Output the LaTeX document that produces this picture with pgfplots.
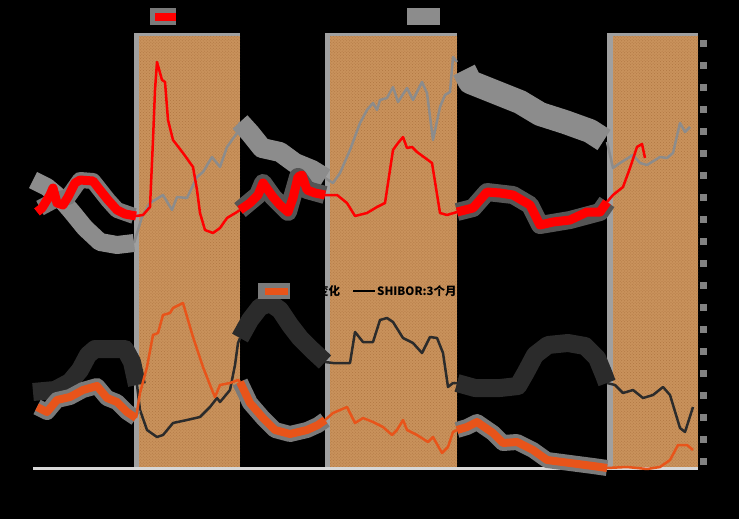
\documentclass[border=0pt]{standalone}
\usepackage{pgfplots}
\pgfplotsset{compat=1.18}
\usetikzlibrary{patterns}
\usepackage{fontspec}
\newfontfamily\cjk{Noto Sans CJK SC}

\definecolor{cork}{RGB}{201,146,92}
\definecolor{corkdark}{RGB}{176,118,66}
\definecolor{bandedge}{RGB}{160,160,160}
\definecolor{lred}{RGB}{255,0,0}
\definecolor{lgray}{RGB}{140,140,140}
\definecolor{lorange}{RGB}{232,84,26}
\definecolor{ldark}{RGB}{43,43,43}
\definecolor{halo}{RGB}{85,85,85}
\definecolor{halolight}{RGB}{122,122,122}

\begin{document}
\begin{tikzpicture}[line cap=round, line join=round]
\fill[black] (0,0) rectangle (739bp,519bp);
\begin{axis}[
    at={(0,0)}, anchor=south west,
    scale only axis, width=739bp, height=519bp,
    xmin=0, xmax=739, ymin=0, ymax=519, y dir=reverse,
    hide axis, clip=false,
]

% shaded periods
\addplot[draw=none, fill=bandedge] coordinates {(134,33)(240,33)(240,468)(134,468)} --cycle;
\addplot[draw=none, fill=cork] coordinates {(139,36)(240,36)(240,468)(139,468)} --cycle;
\addplot[draw=none, pattern=crosshatch dots, pattern color=corkdark] coordinates {(139,36)(240,36)(240,468)(139,468)} --cycle;
\addplot[draw=none, fill=bandedge] coordinates {(325,33)(457,33)(457,468)(325,468)} --cycle;
\addplot[draw=none, fill=cork] coordinates {(330,36)(457,36)(457,468)(330,468)} --cycle;
\addplot[draw=none, pattern=crosshatch dots, pattern color=corkdark] coordinates {(330,36)(457,36)(457,468)(330,468)} --cycle;
\addplot[draw=none, fill=bandedge] coordinates {(607,33)(698,33)(698,468)(607,468)} --cycle;
\addplot[draw=none, fill=cork] coordinates {(613,36)(698,36)(698,468)(613,468)} --cycle;
\addplot[draw=none, pattern=crosshatch dots, pattern color=corkdark] coordinates {(613,36)(698,36)(698,468)(613,468)} --cycle;

% x axis line and right tick column
\draw[color={rgb,255:red,215;green,215;blue,215}, line width=3bp] (axis cs:33,468) -- (axis cs:698,468);
\pgfplotsinvokeforeach{40,62,84,106,128,150,172,194,216,238,260,282,304,326,348,370,392,414,436,458}{
  \fill[color={rgb,255:red,130;green,130;blue,130}] (axis cs:700,#1) rectangle (axis cs:707,#1+7);
}

% ---------- upper panel ----------
% grey series
\addplot[lgray, line width=18bp] coordinates {(33,180)(47,187)(60,198)(72,212)(85,228)(100,242)(117,245)(134,243)};
\addplot[lgray, line width=2.5bp] coordinates {(134,243)(142,217)(150,203)(163,195)(172,210)(177,197)(187,198)(197,177)(203,172)(212,157)(220,167)(227,147)(237,133)(240,122)};
\addplot[lgray, line width=20bp] coordinates {(240,122)(250,133)(262,148)(280,152)(295,163)(312,170)(325,178)};
\addplot[lgray, line width=2.5bp] coordinates {(325,178)(333,183)(340,173)(350,150)(360,123)(367,110)(373,103)(377,110)(380,100)(387,98)(393,87)(398,102)(407,88)(413,100)(422,82)(427,93)(433,140)(440,107)(445,95)(450,92)(453,57)(457,62)};
\addplot[lgray, line width=24bp] coordinates {(464,70)(470,82)(490,90)(520,102)(540,114)(565,122)(590,131)(604,140)};
\addplot[lgray, line width=2.5bp] coordinates {(607,142)(613,168)(620,163)(633,155)(640,163)(647,165)(660,157)(667,158)(673,153)(680,123)(685,132)(690,127)};

% red series
\addplot[halolight, line width=16bp] coordinates {(40,208)(55,200)(68,197)(80,180)(93,181)(108,200)(117,210)(134,216)};
\addplot[halo, line width=18bp] coordinates {(240,210)(258,195)(263,183)(273,197)(288,212)(298,177)(307,190)(325,195)};
\addplot[halo, line width=18bp] coordinates {(457,212)(473,208)(487,192)(513,195)(530,205)(540,225)(570,220)(600,212)(607,202)};
\addplot[lred, line width=9bp] coordinates {(37,212)(42,208)(50,195)(53,188)(57,203)(63,205)(68,197)(75,183)(80,180)(93,181)(100,190)(108,200)(117,210)(125,214)(136,216)};
\addplot[lred, line width=2.5bp] coordinates {(136,216)(143,215)(150,207)(153,140)(155,90)(157,62)(162,80)(165,82)(168,120)(173,140)(183,153)(193,167)(197,190)(200,213)(205,230)(213,233)(220,228)(227,218)(237,212)(240,210)};
\addplot[lred, line width=9bp] coordinates {(240,210)(250,203)(258,195)(263,183)(268,190)(273,197)(280,205)(288,212)(293,198)(298,177)(302,175)(307,190)(315,193)(325,195)};
\addplot[lred, line width=2.5bp] coordinates {(325,195)(337,195)(347,203)(355,216)(367,213)(377,207)(385,203)(393,150)(398,143)(403,137)(407,148)(412,147)(417,152)(432,163)(440,213)(447,215)(457,212)};
\addplot[lred, line width=9bp] coordinates {(457,212)(473,208)(487,192)(500,193)(513,195)(530,205)(540,225)(553,222)(570,220)(587,212)(600,212)(607,202)};
\addplot[lred, line width=2.5bp] coordinates {(607,202)(613,195)(623,187)(630,168)(637,147)(642,144)(645,158)};

% ---------- lower panel ----------
% dark series (SHIBOR 3M)
\addplot[ldark, line width=18bp] coordinates {(33,392)(55,390)(70,382)(80,370)(88,355)(95,349)(125,349)(132,362)(137,385)};
\addplot[ldark, line width=2.5bp] coordinates {(137,385)(140,410)(147,430)(157,437)(163,435)(173,423)(187,420)(200,417)(210,407)(217,398)(220,402)(230,390)(235,365)(238,343)(240,338)};
\addplot[ldark, line width=18bp] coordinates {(240,338)(250,320)(260,307)(270,303)(280,310)(290,325)(300,338)(312,350)(325,362)};
\addplot[ldark, line width=2.5bp] coordinates {(325,362)(333,363)(350,363)(355,332)(363,342)(373,342)(380,320)(387,318)(393,322)(403,338)(413,343)(422,353)(430,337)(437,338)(443,353)(448,387)(453,383)(457,383)};
\addplot[ldark, line width=18bp] coordinates {(457,383)(475,388)(500,388)(518,386)(526,372)(535,355)(548,345)(568,343)(585,346)(597,358)(604,375)(607,383)};
\addplot[ldark, line width=2.5bp] coordinates {(607,383)(615,385)(623,393)(633,390)(643,398)(653,395)(663,387)(670,395)(680,428)(685,432)(693,407)};

% orange series
\addplot[halolight, line width=16bp] coordinates {(37,407)(47,412)(57,400)(70,397)(83,390)(97,386)(107,398)(117,402)(127,412)(136,418)};
\addplot[halolight, line width=16bp] coordinates {(240,382)(250,403)(263,418)(275,430)(290,434)(307,430)(318,425)(325,420)};
\addplot[halolight, line width=16bp] coordinates {(457,430)(467,427)(477,422)(493,433)(503,443)(517,442)(533,450)(547,460)(570,463)(593,466)(607,468)};
\addplot[lorange, line width=8bp] coordinates {(37,407)(47,412)(57,400)(70,397)(83,390)(97,386)(107,398)(117,402)(127,412)(136,418)};
\addplot[lorange, line width=2.5bp] coordinates {(136,418)(140,393)(147,367)(153,335)(158,333)(163,315)(170,313)(173,308)(183,303)(193,337)(203,367)(212,390)(215,397)(220,385)(230,383)(238,380)(240,382)};
\addplot[lorange, line width=8bp] coordinates {(240,382)(250,403)(263,418)(275,430)(290,434)(307,430)(318,425)(325,420)};
\addplot[lorange, line width=2.5bp] coordinates {(325,420)(333,413)(340,410)(347,407)(355,423)(363,418)(373,422)(383,427)(392,435)(397,430)(403,420)(407,430)(417,435)(428,442)(433,437)(442,453)(448,447)(453,432)(457,430)};
\addplot[lorange, line width=8bp] coordinates {(457,430)(467,427)(477,422)(493,433)(503,443)(517,442)(533,450)(547,460)(570,463)(593,466)(607,468)};
\addplot[lorange, line width=2.5bp] coordinates {(607,468)(627,467)(647,469)(660,467)(670,460)(678,445)(687,445)(693,450)};

% ---------- legends ----------
\fill[halolight] (axis cs:150,8) rectangle (axis cs:176,25);
\draw[lred, line width=8bp] (axis cs:155,17) -- (axis cs:176,17);
\node[anchor=west, font=\cjk\bfseries\fontsize{11.5bp}{13bp}\selectfont, text=black, inner sep=0pt] at (axis cs:182,17) {CPI同比};
\fill[lgray] (axis cs:407,8) rectangle (axis cs:440,25);
\node[anchor=west, font=\cjk\bfseries\fontsize{11.5bp}{13bp}\selectfont, text=black, inner sep=0pt] at (axis cs:445,17) {PPI同比};

\fill[halolight] (axis cs:258,283) rectangle (axis cs:290,299);
\draw[lorange, line width=7bp] (axis cs:265,291) -- (axis cs:288,291);
\node[anchor=west, font=\cjk\bfseries\fontsize{11.5bp}{13bp}\selectfont, text=black, inner sep=0pt] at (axis cs:294,291) {同比变化};
\draw[black, line width=2bp, line cap=butt] (axis cs:353,291) -- (axis cs:375,291);
\node[anchor=west, font=\cjk\bfseries\fontsize{11.5bp}{13bp}\selectfont, text=black, inner sep=0pt] at (axis cs:377,291) {SHIBOR:3个月};

\end{axis}
\end{tikzpicture}
\end{document}
